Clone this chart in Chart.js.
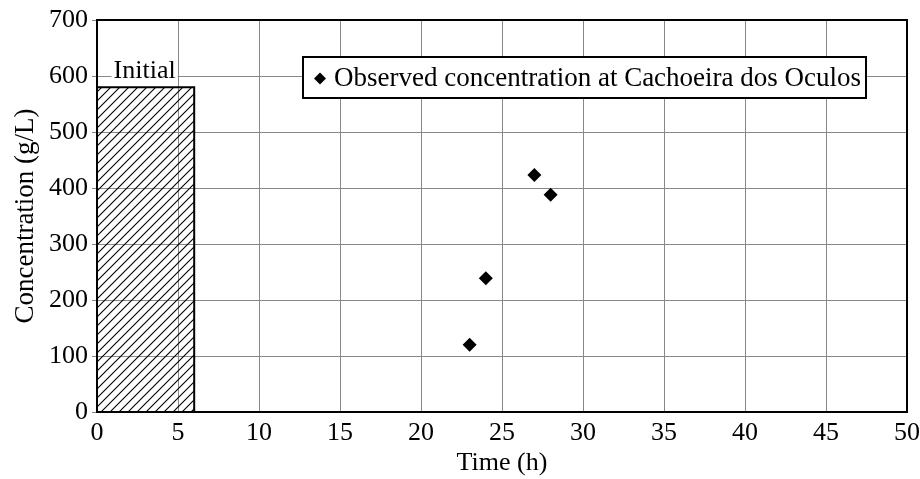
<!DOCTYPE html>
<html>
<head>
<meta charset="utf-8">
<script src="https://cdn.jsdelivr.net/npm/chart.js@4"></script>
<style>
  html, body { margin: 0; padding: 0; background: #fff; }
  #wrap { width: 920px; height: 479px; }
</style>
</head>
<body>
<div id="wrap"><canvas id="myChart" width="920" height="479"></canvas></div>
<script>
// observed values
var timeH = [23, 24, 27, 28];
var concObs = [120, 239, 423, 388];
// initial block (hatched)
var initialTime = [0, 6];
var initialConc = 580;
var initialLabel = "Initial";
var legendText = "Observed concentration at Cachoeira dos Oculos";
var xTitle = "Time (h)";
var yTitle = "Concentration (g/L)";

var FONT = "'Liberation Serif', 'Times New Roman', serif";

// hatch pattern ///
function makeHatch(){
    var c = document.createElement("canvas");
    c.width = 9; c.height = 9;
    var g = c.getContext("2d");
    g.strokeStyle = "#000";
    g.lineWidth = 1.1;
    g.beginPath();
    g.moveTo(-1, 10); g.lineTo(10, -1);
    g.moveTo(-1, 1); g.lineTo(1, -1);
    g.moveTo(8, 10); g.lineTo(10, 8);
    g.stroke();
    return g.createPattern(c, "repeat");
}

var obsPoints = [];
for(var i=0; i<timeH.length; i++){
    obsPoints.push({x: timeH[i], y: concObs[i]});
}
var initPoints = [
    {x: initialTime[0], y: 0},
    {x: initialTime[0], y: initialConc},
    {x: initialTime[1], y: initialConc},
    {x: initialTime[1], y: 0}
];

var extras = {
    id: "extras",
    afterDatasetsDraw: function(chart){
        var ctx = chart.ctx;
        var a = chart.chartArea;
        var xs = chart.scales.x, ys = chart.scales.y;
        ctx.save();
        // frame top/right
        ctx.strokeStyle = "#000";
        ctx.lineWidth = 2;
        ctx.beginPath();
        ctx.moveTo(a.left, a.top); ctx.lineTo(a.right, a.top); ctx.lineTo(a.right, a.bottom);
        ctx.stroke();

        ctx.font = "26px " + FONT;
        ctx.textBaseline = "middle";
        // "Initial" label
        var cx = xs.getPixelForValue((initialTime[0] + initialTime[1]) / 2) - 1;
        var cy = ys.getPixelForValue(initialConc) - 16;
        var w = ctx.measureText(initialLabel).width;
        ctx.fillStyle = "#fff";
        ctx.fillRect(cx - w/2 - 2, cy - 12, w + 4, 24);
        ctx.fillStyle = "#000";
        ctx.textAlign = "center";
        ctx.fillText(initialLabel, cx, cy);

        // legend box
        var bx = 303, by = 57, bw = 563, bh = 41;
        ctx.fillStyle = "#fff";
        ctx.fillRect(bx, by, bw, bh);
        ctx.lineWidth = 2;
        ctx.strokeRect(bx, by, bw, bh);
        var dx = bx + 17, dy = by + bh/2 + 1, r = 6;
        ctx.fillStyle = "#000";
        ctx.beginPath();
        ctx.moveTo(dx, dy - r); ctx.lineTo(dx + r, dy); ctx.lineTo(dx, dy + r); ctx.lineTo(dx - r, dy);
        ctx.closePath();
        ctx.fill();
        ctx.font = "27px " + FONT;
        ctx.textAlign = "left";
        ctx.fillText(legendText, bx + 31, dy);
        ctx.restore();
    }
};

var chart = new Chart(document.getElementById("myChart").getContext("2d"), {
    type: "scatter",
    data: {
        datasets: [
            {
                label: "Initial",
                type: "line",
                data: initPoints,
                borderColor: "#000",
                borderWidth: 2,
                backgroundColor: makeHatch(),
                fill: "origin",
                pointRadius: 0,
                tension: 0,
                order: 2
            },
            {
                label: legendText,
                data: obsPoints,
                pointStyle: "rectRot",
                pointRadius: 7,
                pointHoverRadius: 7,
                backgroundColor: "#000",
                borderColor: "#000",
                borderWidth: 0,
                order: 1
            }
        ]
    },
    options: {
        responsive: false,
        animation: false,
        layout: { padding: { top: 20, right: 13, left: 0, bottom: 0 } },
        plugins: { legend: { display: false }, tooltip: { enabled: false } },
        scales: {
            x: {
                type: "linear",
                min: 0, max: 50,
                ticks: { stepSize: 5, color: "#000", padding: 6, maxRotation: 0, font: { family: FONT, size: 26 } },
                grid: { color: "#888", lineWidth: 1, tickLength: 0 },
                border: { color: "#000", width: 2 },
                title: { display: true, text: xTitle, color: "#000", padding: { top: 0, bottom: 0 }, font: { family: FONT, size: 26 } },
                afterFit: function(s){ s.height = 67; s.paddingRight = 0; s.paddingLeft = 0; }
            },
            y: {
                min: 0, max: 700,
                ticks: { stepSize: 100, color: "#000", padding: 4, font: { family: FONT, size: 26 } },
                grid: { color: "#888", lineWidth: 1, tickLength: 5 },
                border: { color: "#000", width: 2 },
                title: { display: true, text: yTitle, color: "#000", padding: { top: 10, bottom: 0 }, font: { family: FONT, size: 27 } },
                afterFit: function(s){ s.width = 97; }
            }
        }
    },
    plugins: [extras]
});
</script>
</body>
</html>
